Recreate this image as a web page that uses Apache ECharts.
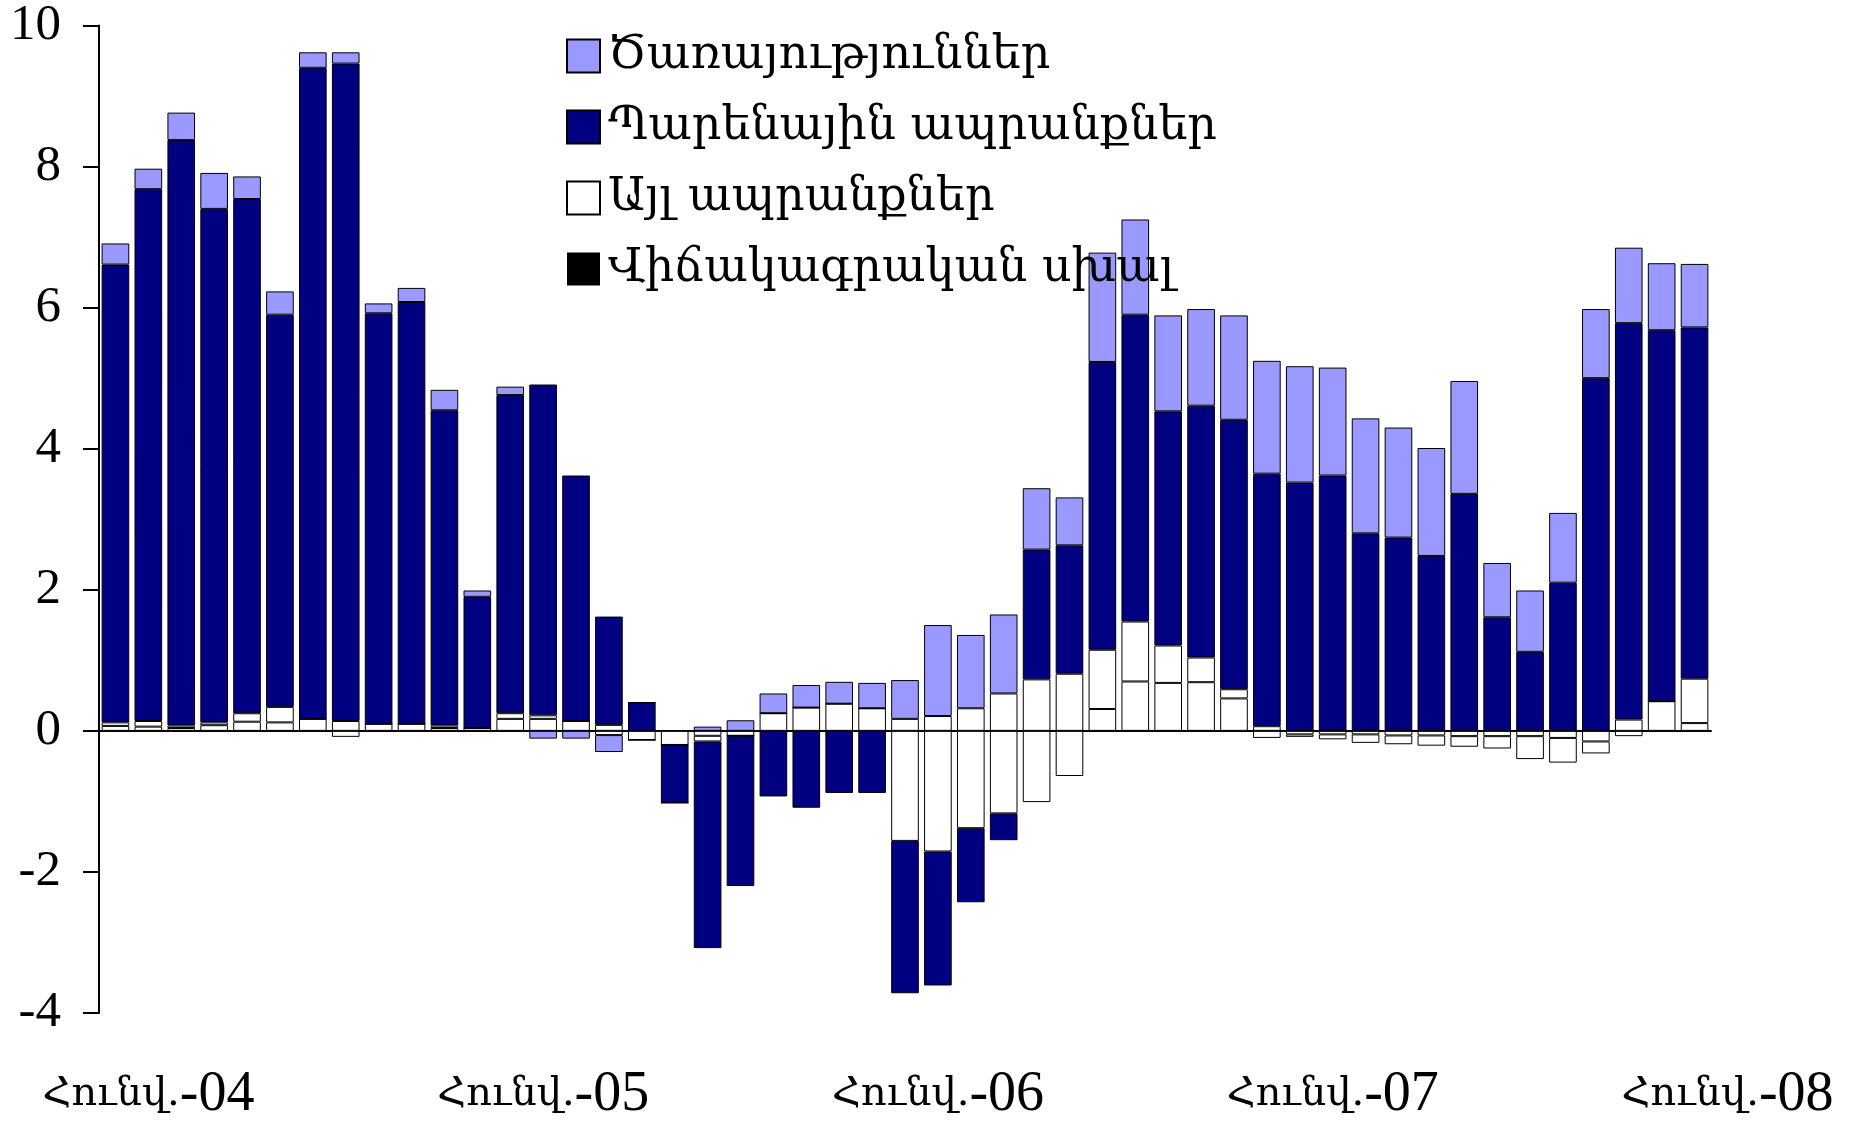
<!DOCTYPE html>
<html>
<head>
<meta charset="utf-8">
<script src="https://cdn.jsdelivr.net/npm/echarts@6/dist/echarts.min.js"></script>
<style>
  html, body { margin: 0; padding: 0; background: #fff; }
  #chart { width: 1851px; height: 1123px; }
</style>
</head>
<body>
<div id="chart"></div>
<script>
// months Jan-2004 .. Jan-2008
const categories = [
  "2004-01","2004-02","2004-03","2004-04","2004-05","2004-06","2004-07","2004-08","2004-09","2004-10","2004-11","2004-12",
  "2005-01","2005-02","2005-03","2005-04","2005-05","2005-06","2005-07","2005-08","2005-09","2005-10","2005-11","2005-12",
  "2006-01","2006-02","2006-03","2006-04","2006-05","2006-06","2006-07","2006-08","2006-09","2006-10","2006-11","2006-12",
  "2007-01","2007-02","2007-03","2007-04","2007-05","2007-06","2007-07","2007-08","2007-09","2007-10","2007-11","2007-12",
  "2008-01"
];
const tickLabels = ["Հունվ.-04", "Հունվ.-05", "Հունվ.-06", "Հունվ.-07", "Հունվ.-08"];
const tickIndex = [0, 12, 24, 36, 48];

// "other goods" is drawn in two white pieces in the original
const otherLow = [
  0.07, 0.06, 0.04, 0.08, 0.13, 0.12, 0.17, -0.085, 0.10, 0.10,
  0.04, 0.04, 0.17, 0.17, 0.14, -0.06, -0.13, -0.20, -0.07, -0.07,
  0.25, 0.33, 0.385, 0.32, -1.56, -1.71, -1.38, -1.17, -1.01, -0.64,
  0.31, 0.70, 0.68, 0.69, 0.46, -0.10, -0.05, -0.05, -0.05, -0.065,
  -0.065, -0.075, -0.075, -0.075, -0.10, -0.15, -0.075, 0.42, 0.11
];
const otherHigh = [
  0.05, 0.08, 0.035, 0.04, 0.12, 0.22, 0, 0.14, 0, 0,
  0.035, 0, 0.08, 0.05, 0, 0.085, 0, 0, -0.08, 0,
  0, 0, 0, 0, 0.17, 0.21, 0.32, 0.53, 0.73, 0.81,
  0.84, 0.85, 0.53, 0.35, 0.13, 0.066, -0.035, -0.07, -0.12, -0.125,
  -0.145, -0.15, -0.175, -0.325, -0.35, -0.17, 0.16, 0, 0.63
];
const food = [
  6.49, 7.54, 8.30, 7.28, 7.29, 5.56, 9.23, 9.32, 5.82, 5.98,
  4.47, 1.86, 4.51, 4.69, 3.48, 1.535, 0.40, -0.82, -2.93, -2.13,
  -0.93, -1.09, -0.88, -0.88, -2.16, -1.90, -1.05, -0.38, 1.84, 1.82,
  4.08, 4.35, 3.32, 3.57, 3.82, 3.58, 3.52, 3.62, 2.80, 2.74,
  2.48, 3.36, 1.61, 1.12, 2.10, 5.00, 5.62, 5.26, 4.98
];
const services = [
  0.30, 0.29, 0.39, 0.51, 0.32, 0.33, 0.22, 0.16, 0.14, 0.20,
  0.29, 0.09, 0.12, -0.11, -0.11, -0.24, 0, 0, 0.06, 0.15,
  0.28, 0.32, 0.31, 0.36, 0.55, 1.29, 1.04, 1.12, 0.87, 0.68,
  1.55, 1.35, 1.36, 1.37, 1.48, 1.60, 1.65, 1.53, 1.63, 1.56,
  1.53, 1.60, 0.77, 0.87, 0.99, 0.98, 1.07, 0.95, 0.90
];
const statError = [
  0, 0, 0, 0, 0, 0, 0, 0, 0, 0,
  0, 0, 0, 0, 0, 0, 0, 0, 0, 0,
  0, 0, 0, 0, 0, 0, 0, 0, 0, 0,
  0, 0, 0, 0, 0, 0, 0, 0, 0, 0,
  0, 0, 0, 0, 0, 0, 0, 0, 0
];

const NAME_SVC = "Ծառայություններ";
const NAME_FOOD = "Պարենային ապրանքներ";
const NAME_OTHER = "Այլ ապրանքներ";
const NAME_ERR = "Վիճակագրական սխալ";

const serif = "'Liberation Serif', 'DejaVu Serif', serif";
const armenian = "'DejaVu Serif', serif";

function bar(name, data, color, border) {
  return {
    name,
    type: "bar",
    stack: "total",
    data,
    barCategoryGap: "16%",
    itemStyle: { color, borderColor: "#000", borderWidth: border }
  };
}

const chart = echarts.init(document.getElementById("chart"), null, { renderer: "canvas" });

chart.setOption({
  animation: false,
  backgroundColor: "#fff",
  grid: { left: 99, right: 140, top: 23, bottom: 110 },
  legend: {
    data: [NAME_SVC, NAME_FOOD, NAME_OTHER, NAME_ERR],
    orient: "vertical",
    left: 561,
    top: 28,
    icon: "rect",
    itemWidth: 33,
    itemHeight: 33,
    itemGap: 25,
    selectedMode: false,
    textStyle: { fontFamily: armenian, fontSize: 46, color: "#000", padding: [0, 0, 0, 3] }
  },
  xAxis: [
    {
      type: "category",
      data: categories,
      axisLine: { onZero: true, lineStyle: { color: "#000", width: 2 } },
      axisTick: { show: false },
      axisLabel: { show: false },
      splitLine: { show: false }
    },
    {
      type: "category",
      data: categories,
      position: "bottom",
      axisLine: { show: false, onZero: false },
      axisTick: { show: false },
      splitLine: { show: false },
      axisLabel: {
        interval: (i) => tickIndex.includes(i),
        margin: 54,
        formatter: (v, i) => {
          const t = tickLabels[tickIndex.indexOf(i)];
          const k = t.indexOf("-");
          return "{s|}{a|" + t.slice(0, k) + "}{b|" + t.slice(k) + "}";
        },
        rich: {
          s: { width: 66 },
          a: { fontFamily: armenian, fontSize: 40, color: "#000" },
          b: { fontFamily: serif, fontSize: 56, color: "#000" }
        }
      }
    }
  ],
  yAxis: {
    type: "value",
    min: -4,
    max: 10,
    interval: 2,
    axisLine: { show: true, lineStyle: { color: "#000", width: 2 } },
    axisTick: { show: true, length: 16, lineStyle: { color: "#000", width: 2 } },
    splitLine: { show: false },
    axisLabel: { fontFamily: serif, fontSize: 51, color: "#000", margin: 38 }
  },
  series: [
    bar(NAME_OTHER, otherLow, "#ffffff", 1),
    bar(NAME_OTHER, otherHigh, "#ffffff", 1),
    bar(NAME_FOOD, food, "#000080", 1),
    bar(NAME_SVC, services, "#9999ff", 1),
    bar(NAME_ERR, statError, "#000000", 0)
  ]
});
</script>
</body>
</html>
